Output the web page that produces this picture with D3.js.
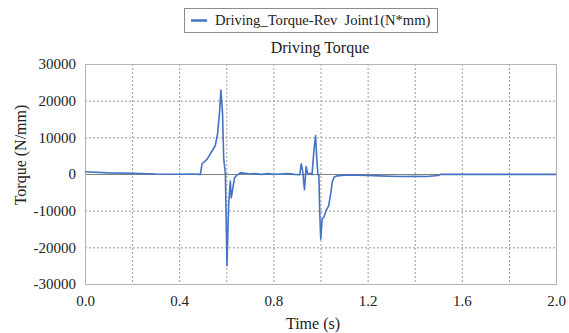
<!DOCTYPE html>
<html lang="en">
<head>
    <meta charset="UTF-8">
    <title>Driving Torque</title>
    <script src="https://d3js.org/d3.v7.min.js"></script>
    <style>
        body { margin: 0; background: #fff; }
        svg { display: block; }
    </style>
</head>
<body>
    <svg id="chart" width="569" height="333"></svg>

    <script>
        // time (s) and torque values
        const times = [0, 0.1, 0.2, 0.3, 0.4, 0.45, 0.49, 0.497, 0.518, 0.539, 0.553, 0.563, 0.571, 0.577,
            0.584, 0.589, 0.593, 0.596, 0.603, 0.610, 0.617, 0.621, 0.628, 0.635, 0.645, 0.660,
            0.68, 0.70, 0.72, 0.75, 0.78, 0.80, 0.83, 0.86, 0.89, 0.912,
            0.918, 0.925, 0.932, 0.939, 0.946, 0.957, 0.964, 0.972, 0.979, 0.983, 0.989, 0.993,
            0.997, 1.001, 1.007, 1.014, 1.024, 1.035, 1.043, 1.050, 1.057, 1.071,
            1.10, 1.15, 1.20, 1.25, 1.30, 1.35, 1.40, 1.45, 1.50, 1.51, 1.6, 1.8, 2.0];
        const torque = [600, 300, 200, 0, -50, 0, -100, 2800, 4000, 6200, 7700, 11000, 16500, 22900,
            16500, 4200, 1900, 200, -25000, -8300, -1900, -6500, -3800, -1000, -300, 300,
            200, 0, 100, -100, 100, -100, 0, 100, -100, -200,
            2800, 500, -4300, 2000, -100, 200, -200, 6300, 10500, 5500, -200, -300,
            -10900, -17800, -12300, -11800, -10000, -8600, -5400, -2200, -900, -500,
            -300, -300, -400, -500, -600, -700, -600, -700, -400, -100, -100, -100, -100];

        const xTicks = [0, 0.4, 0.8, 1.2, 1.6, 2.0];
        const yTicks = [30000, 20000, 10000, 0, -10000, -20000, -30000];
        const seriesName = 'Driving_Torque-Rev  Joint1(N*mm)';

        const FONT = "'Liberation Serif', 'Times New Roman', serif";

        const svg = d3.select('#chart').attr('font-family', FONT);
        const plotL = 85, plotR = 556, plotT = 64, plotB = 284;

        const x = d3.scaleLinear().domain([0, 2]).range([plotL, plotR]);
        const y = d3.scaleLinear().domain([-30000, 30000]).range([plotB, plotT]);

        // grid
        const grid = svg.append('g');
        grid.selectAll('line.v')
            .data(d3.range(1, 10).map(i => i * 0.2))
            .join('line')
            .attr('x1', d => x(d) + 0.5).attr('x2', d => x(d) + 0.5)
            .attr('y1', plotT).attr('y2', plotB)
            .attr('stroke', '#9a9a9a').attr('stroke-dasharray', '2,2').attr('stroke-width', 1);
        grid.selectAll('line.h')
            .data(yTicks.slice(1, -1))
            .join('line')
            .attr('x1', plotL).attr('x2', plotR)
            .attr('y1', d => y(d) + 0.5).attr('y2', d => y(d) + 0.5)
            .attr('stroke', d => d === 0 ? '#808080' : '#9a9a9a')
            .attr('stroke-dasharray', d => d === 0 ? null : '2,2')
            .attr('stroke-width', 1);

        // frame
        svg.append('rect')
            .attr('x', plotL + 0.5).attr('y', plotT + 0.5)
            .attr('width', plotR - plotL).attr('height', plotB - plotT)
            .attr('fill', 'none').attr('stroke', '#b4b4b4').attr('stroke-width', 1);

        // axes labels
        const xAxis = d3.axisBottom(x).tickValues(xTicks).tickSize(0).tickPadding(11)
            .tickFormat(d3.format('.1f'));
        svg.append('g').attr('transform', `translate(0,${plotB})`).call(xAxis)
            .attr('font-family', FONT).attr('font-size', 15)
            .call(g => g.select('.domain').remove())
            .selectAll('text').attr('fill', '#222');

        const yAxis = d3.axisLeft(y).tickValues(yTicks).tickSize(0).tickPadding(9)
            .tickFormat(d => String(d));
        svg.append('g').attr('transform', `translate(${plotL},0)`).call(yAxis)
            .attr('font-family', FONT).attr('font-size', 15)
            .call(g => g.select('.domain').remove())
            .selectAll('text').attr('fill', '#222');

        // line
        const line = d3.line().x((d, i) => x(times[i])).y(d => y(d));
        svg.append('path')
            .datum(torque)
            .attr('d', line)
            .attr('fill', 'none')
            .attr('stroke', '#4472c4')
            .attr('stroke-width', 1.6)
            .attr('stroke-linejoin', 'round');

        // titles
        svg.append('text').attr('x', 320).attr('y', 53).attr('text-anchor', 'middle')
            .attr('font-size', 16).attr('fill', '#222').text('Driving Torque');
        svg.append('text').attr('x', 313).attr('y', 329).attr('text-anchor', 'middle')
            .attr('font-size', 16).attr('fill', '#222').text('Time (s)');
        svg.append('text').attr('transform', `translate(26,155) rotate(-90)`).attr('text-anchor', 'middle')
            .attr('font-size', 16).attr('fill', '#222').text('Torque (N/mm)');

        // legend
        const legend = svg.append('g');
        legend.append('rect').attr('x', 184.5).attr('y', 8.5).attr('width', 253).attr('height', 24)
            .attr('fill', '#fff').attr('stroke', '#8c8c8c');
        legend.append('line').attr('x1', 191).attr('x2', 207).attr('y1', 20.5).attr('y2', 20.5)
            .attr('stroke', '#4472c4').attr('stroke-width', 2.5);
        legend.append('text').attr('x', 215).attr('y', 25).attr('font-size', 14.6).attr('fill', '#222')
            .style('white-space', 'pre').text(seriesName);
    </script>
</body>
</html>
